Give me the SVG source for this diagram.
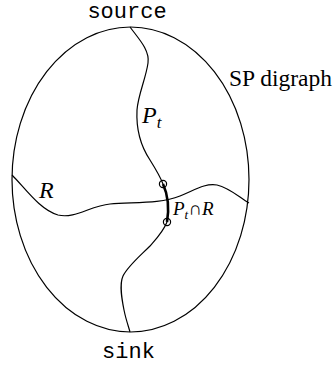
<svg xmlns="http://www.w3.org/2000/svg" width="336" height="367" viewBox="0 0 336 367">
<style>
.ln{fill:none;stroke:#000;stroke-width:1.2}
.thk{fill:none;stroke:#000;stroke-width:2.6}
.mono{font-family:"Liberation Mono",monospace;font-size:22px;fill:#000}
.serif{font-family:"Liberation Serif","DejaVu Serif",serif;fill:#000}
.it{font-style:italic}
</style>
<rect width="336" height="367" fill="#fff"/>
<g id="graph">
<ellipse cx="130.5" cy="179.5" rx="118.5" ry="152.5" class="ln"/>
</g>
<g id="connectors">
<path id="Pt" class="ln" d="M130,27 C138,38 150,50 148,63 C146,78 138,95 137,110 C136,130 140,145 150,160 C155,168 160,176 163,184"/>
<path id="PtR" class="thk" d="M163,184 C168,195 169,210 167,222"/>
<path id="Pt2" class="ln" d="M167,222 C163,232 157,238 150,246 C140,256 128,266 123,276 C119,285 122,300 124,310 C126,320 129,328 130,332"/>
<path id="R" class="ln" d="M12,175 C25,188 40,210 58,215 C75,219 90,206 110,204 C135,202 160,204 180,196 C195,190 205,183 217,185 C230,188 240,198 249,203"/>
<circle cx="163" cy="184" r="3.6" class="ln"/>
<circle cx="167" cy="222" r="3.6" class="ln"/>
</g>
<g id="labels">
<text class="mono" x="127" y="18" text-anchor="middle">source</text>
<text class="mono" x="128.5" y="358" text-anchor="middle">sink</text>
<text class="serif" x="229" y="86" font-size="23.5">SP digraph</text>
<text class="serif" x="142" y="123" font-size="24"><tspan class="it">P</tspan><tspan class="it" font-size="17" dy="5">t</tspan></text>
<text class="serif it" x="39" y="198" font-size="24">R</text>
<text class="serif" x="173" y="215" font-size="19"><tspan class="it">P</tspan><tspan class="it" font-size="13" dy="4">t</tspan><tspan dy="-4">∩</tspan><tspan class="it">R</tspan></text>
</g>
</svg>
